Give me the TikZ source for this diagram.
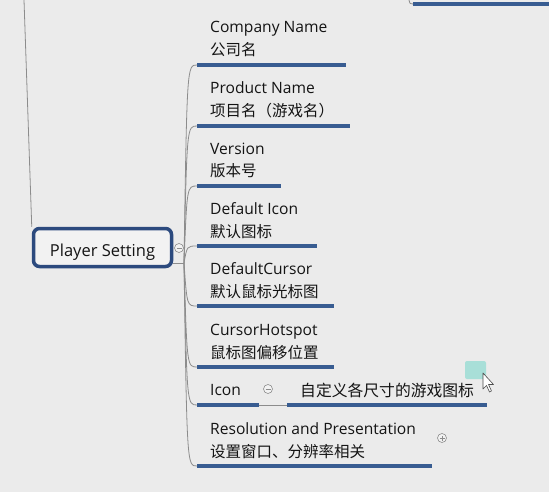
\documentclass[tikz,border=0pt]{standalone}
\usepackage{fontspec}
\setmainfont{Open Sans}
\newfontfamily\cjk{Noto Sans CJK SC}
\definecolor{bgcol}{RGB}{235,235,235}
\definecolor{boxcol}{RGB}{242,242,242}
\definecolor{navy}{RGB}{44,74,126}
\definecolor{ulcol}{RGB}{56,92,145}
\definecolor{stemcol}{RGB}{140,140,140}
\definecolor{inkcol}{RGB}{20,20,20}
\definecolor{teal}{RGB}{140,218,208}
\tikzset{
  stem/.style={draw=stemcol,line width=0.8pt},
  uline/.style={draw=ulcol,line width=3.2pt},
  en/.style={anchor=base west,inner sep=0pt,text=inkcol,font=\fontsize{15.6}{18}\selectfont},
  zh/.style={anchor=base west,inner sep=0pt,text=inkcol,font=\cjk\fontsize{15.5}{18}\selectfont},
  psbox/.style={draw=navy,line width=3.5pt,rounded corners=6pt,fill=boxcol,
    minimum width=138pt,minimum height=38pt,inner sep=0pt,text height=17pt,text depth=0pt,
    text=inkcol,font=\fontsize{16.5}{19}\selectfont},
  toggle/.style={circle,draw=stemcol,fill=boxcol,line width=0.6pt,minimum size=9pt,inner sep=0pt,
    path picture={\draw[stemcol,line width=0.6pt] ([xshift=2pt]path picture bounding box.west)
      -- ([xshift=-2pt]path picture bounding box.east);}},
  plustoggle/.style={toggle,
    path picture={\draw[stemcol,line width=0.6pt] ([xshift=2pt]path picture bounding box.west)
      -- ([xshift=-2pt]path picture bounding box.east)
      ([yshift=2pt]path picture bounding box.south)
      -- ([yshift=-2pt]path picture bounding box.north);}}
}
\begin{document}
\begin{tikzpicture}[x=1pt,y=-1pt]
    \useasboundingbox (0,0) rectangle (549,492);
    \fill[bgcol] (0,0) rectangle (549,492);
    %% branch from the parent above
    \coordinate (up) at (24,0);
    \coordinate (tr) at (409,0);
    \coordinate (tru) at (413,4);
    \draw[stem] (tr) .. controls (410,4) .. (tru);
    \draw[uline] (tru) -- (549,4);
    %% central topic
    \node[psbox] (ps) at (102.5,247.5) {Player Setting};
    \draw[stem] (up) -- (ps.north west);
    \node[toggle] (pstgl) at (179,248) {};
    \coordinate (hub) at (184,263);
    \draw[stem] (ps.east |- hub) -- (hub);
    %% sub-topics
    \foreach \en/\zh/\u/\e [count=\i] in {
        Company Name/公司名/65/346,
        Product Name/项目名（游戏名）/126/350,
        Version/版本号/186/281,
        Default Icon/默认图标/246/317,
        DefaultCursor/默认鼠标光标图/306/334,
        CursorHotspot/鼠标图偏移位置/367/334,
        Resolution and Presentation/设置窗口、分辨率相关/466/432} {
        \coordinate (u\i) at (197,\u);
        \draw[uline] (u\i) -- (\e,\u);
        \node[en] (en\i) at (210,{\u-32}) {\en};
        \node[zh] (zh\i) at (210,{\u-9}) {\zh};
        \draw[stem] (hub) .. controls (187,\u) .. (u\i);
    }
    \node[plustoggle] (restgl) at (442,438) {};
    %% Icon with its child
    \coordinate (u8) at (197,405);
    \coordinate (icend) at (259,405);
    \coordinate (subu) at (287,405);
    \draw[stem] (hub) .. controls (187,405) .. (u8);
    \draw[uline] (u8) -- (icend);
    \draw[stem] (icend) -- (subu);
    \draw[uline] (subu) -- (487,405);
    \node[en] (icon) at (210,395) {Icon};
    \node[toggle] (icontgl) at (268,389) {};
    \node[zh,font=\cjk\fontsize{15.8}{20}\selectfont] (sub) at (300,396) {自定义各尺寸的游戏图标};
    %% mouse pointer
    \fill[teal,opacity=0.7,rounded corners=2pt] (465,361) rectangle (486,379);
    \draw[fill=white,draw=black!70,line width=0.6pt,line join=round]
        (483,373) -- (483,389) -- (486.5,385.5) -- (489.5,392) -- (491.5,391) -- (488.5,384.5) -- (493.5,384.5) -- cycle;
\end{tikzpicture}
\end{document}
